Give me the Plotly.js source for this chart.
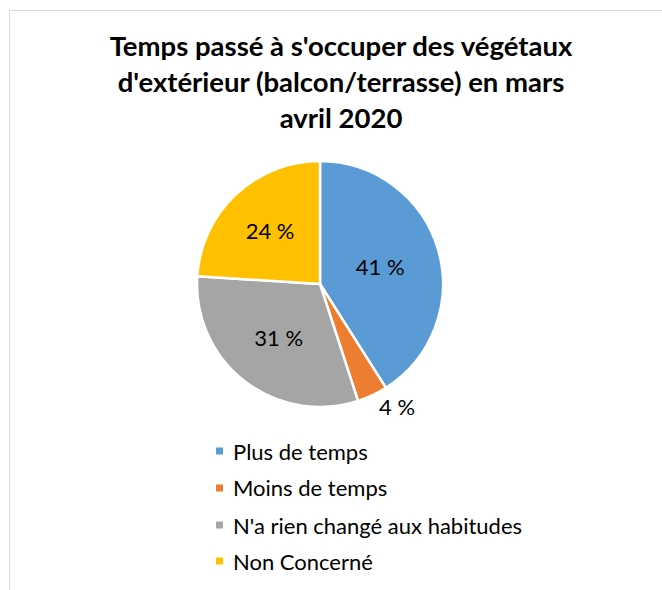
<!DOCTYPE html>
<html><head><meta charset="utf-8">
<script src="https://cdn.plot.ly/plotly-3.0.1.min.js"></script>
<style>
html,body{margin:0;padding:0;background:#fff;}
#frame{position:absolute;left:9px;top:10px;width:653px;height:580px;border-left:1px solid #d9d9d9;border-top:1px solid #d9d9d9;}
#chart{position:absolute;left:0;top:0;width:662px;height:590px;}
</style></head>
<body>
<div id="frame"></div>
<div id="chart"></div>
<script>
const labels = ["Plus de temps", "Moins de temps", "N'a rien changé aux habitudes", "Non Concerné"];
const values = [41, 4, 31, 24];
const colors = ["#5B9BD5", "#ED7D31", "#A5A5A5", "#FFC000"];
const positions = ["inside", "outside", "inside", "inside"];
const titleText = "Temps passé à s'occuper des végétaux<br>d'extérieur (balcon/terrasse) en mars<br>avril 2020";

const W = 662, H = 590;
const px = x => x / W, py = y => 1 - y / H;

const legendRows = [451, 488, 525, 561];
const shapes = [], annotations = [];
labels.forEach((lab, i) => {
  shapes.push({type: "rect", xref: "paper", yref: "paper",
    x0: px(216), x1: px(223), y0: py(legendRows[i] + 3.5), y1: py(legendRows[i] - 3.5),
    fillcolor: colors[i], line: {width: 0}});
  annotations.push({xref: "paper", yref: "paper", x: px(231), y: py(legendRows[i]),
    xanchor: "left", yanchor: "middle", text: lab, showarrow: false,
    font: {family: "Lato, sans-serif", size: 22, color: "#000"}});
});

const data = [{
  type: "pie", labels: labels, values: values, sort: false, direction: "clockwise", rotation: 0,
  marker: {colors: colors, line: {color: "#fff", width: 2.5}},
  texttemplate: "%{value} %", textposition: positions,
  textfont: {family: "Lato, sans-serif", size: 22, color: "#000"},
  outsidetextfont: {family: "Lato, sans-serif", size: 22, color: "#000"},
  insidetextorientation: "horizontal",
  hoverinfo: "label+percent",
  domain: {x: [px(197), px(443)], y: [py(407), py(161)]},
  showlegend: false
}];

const layout = {
  width: W, height: H, margin: {l: 0, r: 0, t: 0, b: 0},
  paper_bgcolor: "rgba(0,0,0,0)", plot_bgcolor: "rgba(0,0,0,0)",
  title: {text: titleText, x: px(341), xanchor: "center", y: py(56), yanchor: "top",
    font: {family: "Lato, sans-serif", size: 27.5, color: "#000", weight: "bold"}},
  shapes: shapes, annotations: annotations, showlegend: false
};
Plotly.newPlot("chart", data, layout, {displayModeBar: false, staticPlot: true});
</script>
</body></html>
